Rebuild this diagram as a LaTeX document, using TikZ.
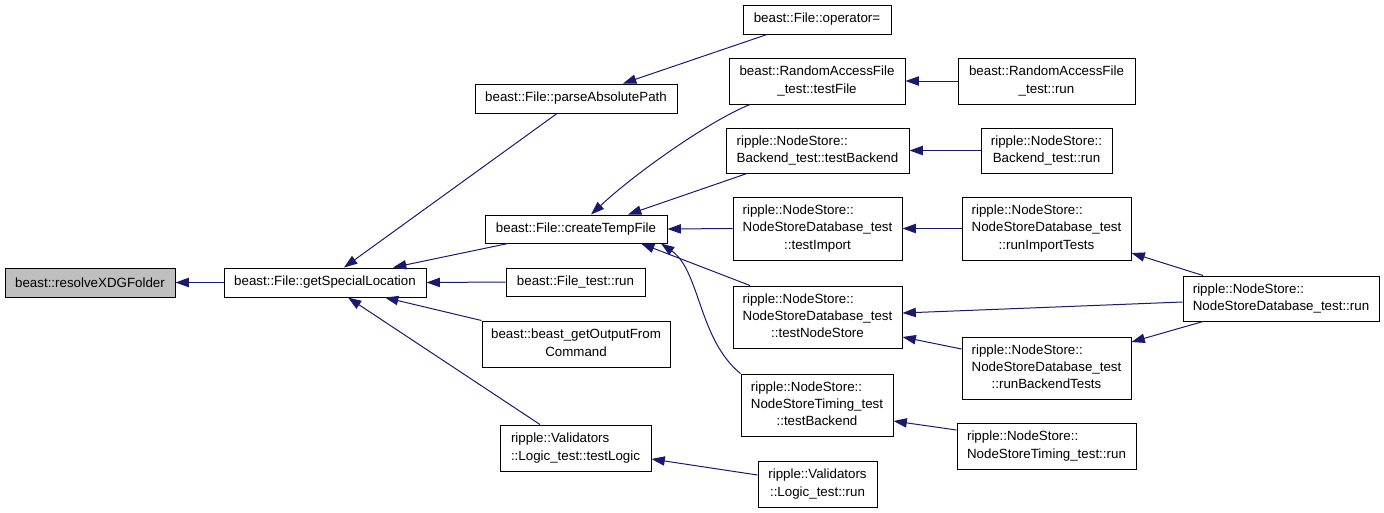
\documentclass[tikz,border=0pt]{standalone}
\usepackage{fontspec}
\setmainfont{Liberation Sans}
\usetikzlibrary{calc,arrows.meta}
\definecolor{navy}{HTML}{191970}
\definecolor{grayfill}{HTML}{BFBFBF}
\newcommand\Ln[1]{\multicolumn{1}{@{}l@{}}{#1}}
\newcommand\Tb[1]{\begin{tabular}{@{}c@{}}#1\end{tabular}}
\newcommand\bx[7][]{\node[box,#1,minimum width={(#4-#2)*0.75pt},minimum height={(#5-#3)*0.75pt}] (#6) at ({(#2+#4)/2},{(#3+#5)/2}) {#7};}
\begin{document}
\begin{tikzpicture}[x=0.75pt,y=-0.75pt,
  box/.style={draw=black,line width=0.75pt,inner sep=0pt,font=\fontsize{10pt}{13pt}\selectfont},
  callarrow/.style={draw=navy,line width=0.75pt,-{Triangle[length=10pt,width=7pt]}}]
\useasboundingbox (0,0) rectangle (1384,512);
\bx[fill=grayfill]{5}{268}{175}{297}{rx}{beast::resolveXDGFolder}
\bx{224}{268}{426}{297}{gsl}{beast::File::getSpecialLocation}
\bx{743}{5}{891}{34}{op}{beast::File::operator=}
\bx{475}{84}{677}{113}{pap}{beast::File::parseAbsolutePath}
\bx{729}{58}{905}{104}{rtf}{\Tb{beast::RandomAccessFile\\\_test::testFile}}
\bx{726}{128}{909}{173}{btb}{\Tb{\Ln{ripple::NodeStore::}\\Backend\_test::testBackend}}
\bx{485}{215}{667}{243}{ctf}{beast::File::createTempFile}
\bx{733}{197}{902}{260}{tim}{\Tb{\Ln{ripple::NodeStore::}\\NodeStoreDatabase\_test\\::testImport}}
\bx{506}{268}{645}{296}{ftr}{beast::File\_test::run}
\bx{482}{321}{670}{367}{goc}{\Tb{beast::beast\_getOutputFrom\\Command}}
\bx{733}{286}{902}{348}{tns}{\Tb{\Ln{ripple::NodeStore::}\\NodeStoreDatabase\_test\\::testNodeStore}}
\bx{741}{374}{893}{436}{ttb}{\Tb{\Ln{ripple::NodeStore::}\\NodeStoreTiming\_test\\::testBackend}}
\bx{500}{425}{651}{471}{ltl}{\Tb{\Ln{ripple::Validators}\\::Logic\_test::testLogic}}
\bx{758}{461}{877}{507}{lr}{\Tb{\Ln{ripple::Validators}\\::Logic\_test::run}}
\bx{958}{58}{1135}{104}{rar}{\Tb{beast::RandomAccessFile\\\_test::run}}
\bx{981}{128}{1112}{173}{btr}{\Tb{\Ln{ripple::NodeStore::}\\Backend\_test::run}}
\bx{962}{197}{1131}{260}{rit}{\Tb{\Ln{ripple::NodeStore::}\\NodeStoreDatabase\_test\\::runImportTests}}
\bx{1183}{276}{1379}{321}{ndr}{\Tb{\Ln{ripple::NodeStore::}\\NodeStoreDatabase\_test::run}}
\bx{962}{337}{1131}{399}{rbt}{\Tb{\Ln{ripple::NodeStore::}\\NodeStoreDatabase\_test\\::runBackendTests}}
\bx{957}{423}{1136}{469}{ntr}{\Tb{\Ln{ripple::NodeStore::}\\NodeStoreTiming\_test::run}}
% edges
\draw[callarrow] (gsl.west) -- (rx.east);
\draw[callarrow] ($(pap.south)+(-19,0)$) -- ($(gsl.north)+(19,0)$);
\draw[callarrow] ($(ctf.south)+(-68,0)$) -- ($(gsl.north)+(68,0)$);
\draw[callarrow] (ftr.west) -- (gsl.east);
\draw[callarrow] (goc.north west) -- ($(gsl.south)+(60,0)$);
\draw[callarrow] ($(ltl.north)+(-35.5,0)$) -- ($(gsl.south)+(23,0)$);
\draw[callarrow] ($(op.south)+(-50,0)$) -- ($(pap.north)+(47,0)$);
\draw[callarrow] ($(rtf.south)+(-67,0)$) .. controls +(-40,16) and +(45,-42) .. ($(ctf.north)+(15,0)$);
\draw[callarrow] ($(btb.south)+(-70.5,0)$) -- ($(ctf.north)+(52,0)$);
\draw[callarrow] (tim.west) -- (ctf.east);
\draw[callarrow] ($(tns.north)+(-67.5,0)$) -- ($(ctf.south)+(65,0)$);
\draw[callarrow] (ttb.north west) .. controls +(-42,-34) and +(39,27) .. ($(ctf.south)+(85,0)$);
\draw[callarrow] (rar.west) -- (rtf.east);
\draw[callarrow] (btr.west) -- (btb.east);
\draw[callarrow] (rit.west) -- (tim.east);
\draw[callarrow] ($(ndr.north)+(-78,0)$) -- ($(rit.east)+(0,24.5)$);
\draw[callarrow] ($(ndr.west)+(0,3.5)$) -- ($(tns.east)+(0,-4)$);
\draw[callarrow] ($(ndr.south)+(-78,0)$) -- ($(rbt.east)+(0,-26)$);
\draw[callarrow] ($(rbt.west)+(0,-19)$) -- ($(tns.east)+(0,20)$);
\draw[callarrow] ($(ntr.west)+(0,-16)$) -- ($(ttb.east)+(0,16)$);
\draw[callarrow] ($(lr.west)+(0,-9)$) -- ($(ltl.east)+(0,11)$);
\end{tikzpicture}
\end{document}
